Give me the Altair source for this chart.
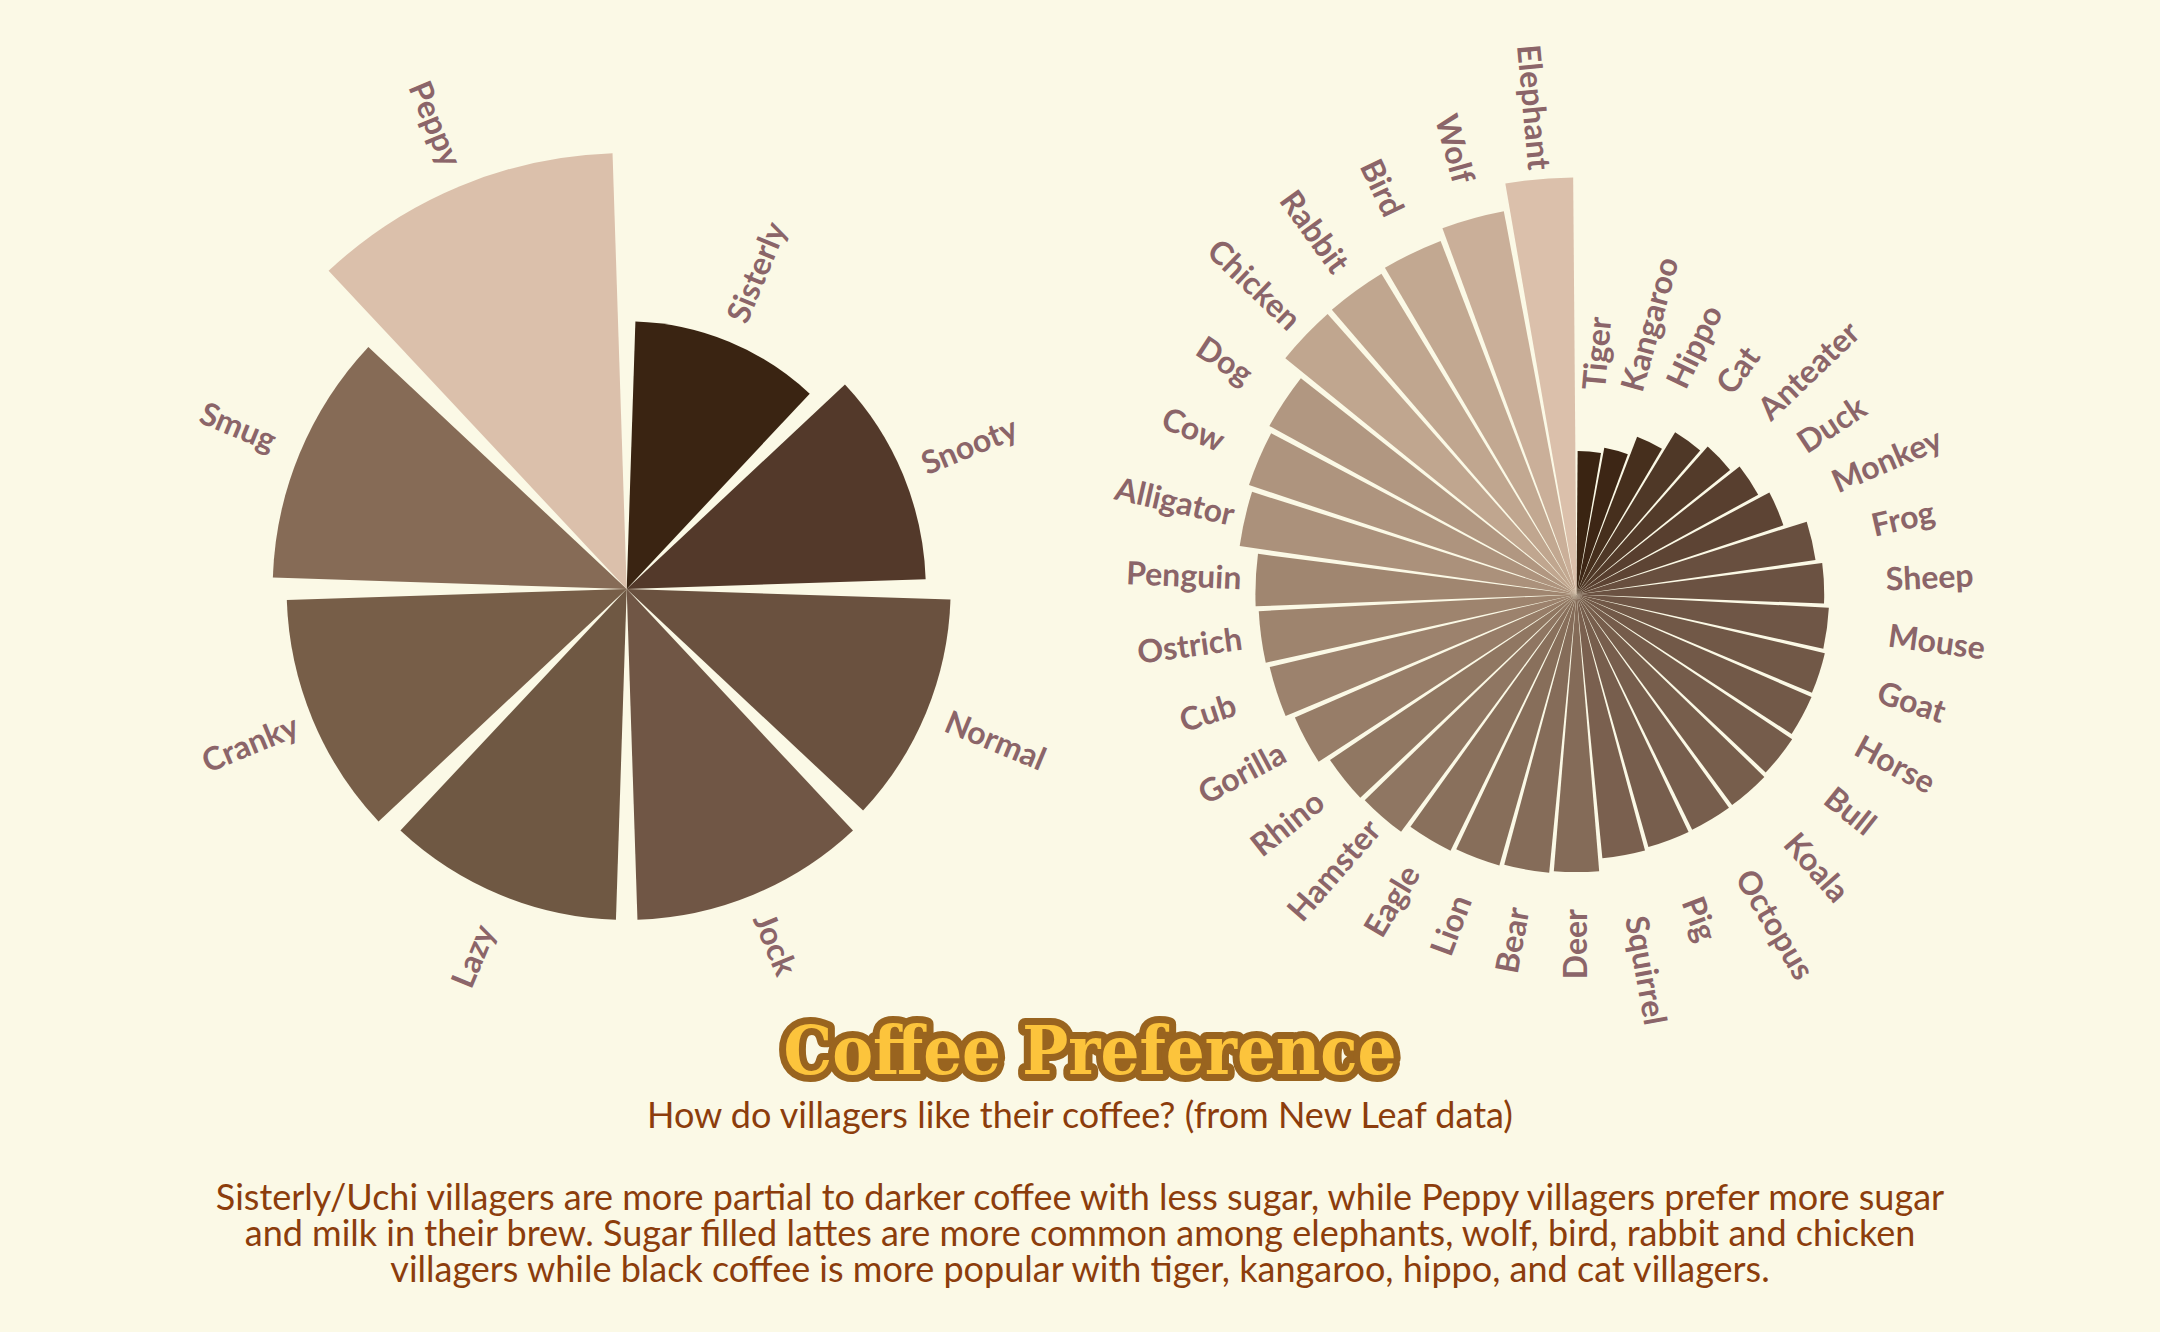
import math
import altair as alt
import pandas as pd

# ---------------- data ----------------
personalities = ["Sisterly", "Snooty", "Normal", "Jock", "Lazy", "Cranky", "Smug", "Peppy"]
personality_scores = [61.4, 68.6, 74.3, 75.9, 75.9, 78.0, 81.2, 100.0]

species = ["Tiger", "Kangaroo", "Hippo", "Cat", "Anteater", "Duck", "Monkey", "Frog",
           "Sheep", "Mouse", "Goat", "Horse", "Bull", "Koala", "Octopus", "Pig",
           "Squirrel", "Deer", "Bear", "Lion", "Eagle", "Hamster", "Rhino", "Gorilla",
           "Cub", "Ostrich", "Penguin", "Alligator", "Cow", "Dog", "Chicken", "Rabbit",
           "Bird", "Wolf", "Elephant"]
species_scores = [34.4, 35.8, 40.5, 45.5, 47.4, 49.7, 52.3, 57.9,
                  59.4, 60.6, 61.2, 61.5, 62.3, 62.8, 62.9, 63.0,
                  63.6, 66.6, 67.1, 67.6, 68.5, 70.8, 71.2, 73.7,
                  75.6, 76.3, 77.0, 81.6, 82.8, 84.0, 89.9, 90.0,
                  90.8, 93.5, 100.0]

title_text = ["Coffee Preference"]
subtitle_text = ["How do villagers like their coffee? (from New Leaf data)"]
description_lines = [
    "Sisterly/Uchi villagers are more partial to darker coffee with less sugar, while Peppy villagers prefer more sugar",
    "and milk in their brew. Sugar filled lattes are more common among elephants, wolf, bird, rabbit and chicken",
    "villagers while black coffee is more popular with tiger, kangaroo, hippo, and cat villagers.",
]

# ---------------- style ----------------
BG = "#fbf9e6"
LABEL = "#8b6569"
TEXT = "#8c3d0c"
personality_colors = ["#3a2412", "#53392a", "#6a513f", "#705645", "#6f5843", "#775e48", "#866b56", "#dbc0ab"]
species_color_stops = [34.4, 59.4, 66.6, 77.0, 89.9, 100.0]
species_color_range = ["#3a2412", "#6b5242", "#846b58", "#a08670", "#c0a68f", "#dbc0ab"]

W, H = 2160, 1332
LEFT_C = (626.7, 589.0)
RIGHT_C = (1576.5, 594.4)
LEFT_R = 436
RIGHT_R = 417


def frame(names, scores):
    return pd.DataFrame({"name": names, "score": scores, "order": list(range(len(names)))})


def polar(names, scores, center, rmax, pad, color, off_right, off_left):
    n = len(names)
    cx, cy = center
    theta_scale = alt.Scale(domain=[0, n], range=[0, 2 * math.pi])
    radius_scale = alt.Scale(type="linear", domain=[0, 100], range=[0, rmax])
    base = alt.Chart(frame(names, scores)).transform_calculate(
        t0="datum.order",
        t1="datum.order + 1",
        tm="datum.order + 0.5",
        deg=f"(datum.order + 0.5) * 360 / {n}",
    ).transform_calculate(
        ang="datum.deg < 180 ? (datum.deg + 270) % 360 : (datum.deg + 90) % 360"
    )
    arcs = base.mark_arc(padAngle=pad).encode(
        x=alt.value(cx),
        y=alt.value(cy),
        theta=alt.Theta("t0:Q", scale=theta_scale, stack=False),
        theta2="t1:Q",
        radius=alt.Radius("score:Q", scale=radius_scale),
        color=color,
    )
    common = dict(font="Lato", fontSize=32, fontWeight="bold", color=LABEL, baseline="middle")
    enc = dict(
        x=alt.value(cx),
        y=alt.value(cy),
        theta=alt.Theta("tm:Q", scale=theta_scale, stack=False),
        radius=alt.Radius("score:Q", scale=radius_scale),
        angle=alt.Angle("ang:Q", scale=None),
        text="name:N",
    )
    lab_r = base.transform_filter("datum.deg < 180").mark_text(
        align="left", radiusOffset=off_right, **common).encode(**enc)
    lab_l = base.transform_filter("datum.deg >= 180").mark_text(
        align="center", radiusOffset=off_left, **common).encode(**enc)
    return [arcs, lab_r, lab_l]


left_layers = polar(
    personalities, personality_scores, LEFT_C, LEFT_R, 0.065,
    alt.Color("name:N", scale=alt.Scale(domain=personalities, range=personality_colors), legend=None),
    22, 67,
)
right_layers = polar(
    species, species_scores, RIGHT_C, RIGHT_R, 0.016,
    alt.Color("score:Q", scale=alt.Scale(domain=species_color_stops, range=species_color_range), legend=None),
    62, 72,
)

TITLE_FONT = "DejaVu Serif Condensed, DejaVu Serif"
title_df = pd.DataFrame({"t": title_text})
title_outline = alt.Chart(title_df).mark_text(
    font=TITLE_FONT, fontSize=68, fontWeight="bold", align="center", baseline="alphabetic",
    fill="#99641f", stroke="#99641f", strokeWidth=14, strokeJoin="round",
).encode(x=alt.value(1090), y=alt.value(1074), text="t:N")
title_fill = alt.Chart(title_df).mark_text(
    font=TITLE_FONT, fontSize=68, fontWeight="bold", align="center", baseline="alphabetic",
    fill="#fcc43c",
).encode(x=alt.value(1090), y=alt.value(1074), text="t:N")

subtitle = alt.Chart(pd.DataFrame({"t": subtitle_text})).mark_text(
    font="Lato", fontSize=36, color=TEXT, align="center", baseline="middle",
).encode(x=alt.value(1080), y=alt.value(1117), text="t:N")

description = alt.Chart(pd.DataFrame({"t": ["\n".join(description_lines)]})).mark_text(
    font="Lato", fontSize=36, color=TEXT, align="center", baseline="middle",
    lineBreak="\n", lineHeight=36,
).encode(x=alt.value(1080), y=alt.value(1199), text="t:N")

chart = alt.layer(
    *left_layers, *right_layers, title_outline, title_fill, subtitle, description
).resolve_scale(
    theta="independent", radius="independent", color="independent"
).properties(
    width=W, height=H, background=BG, padding=0,
    autosize=alt.AutoSizeParams(type="none"),
).configure_view(stroke=None)

chart.save("out.html", embed_options={"renderer": "svg", "actions": False})
